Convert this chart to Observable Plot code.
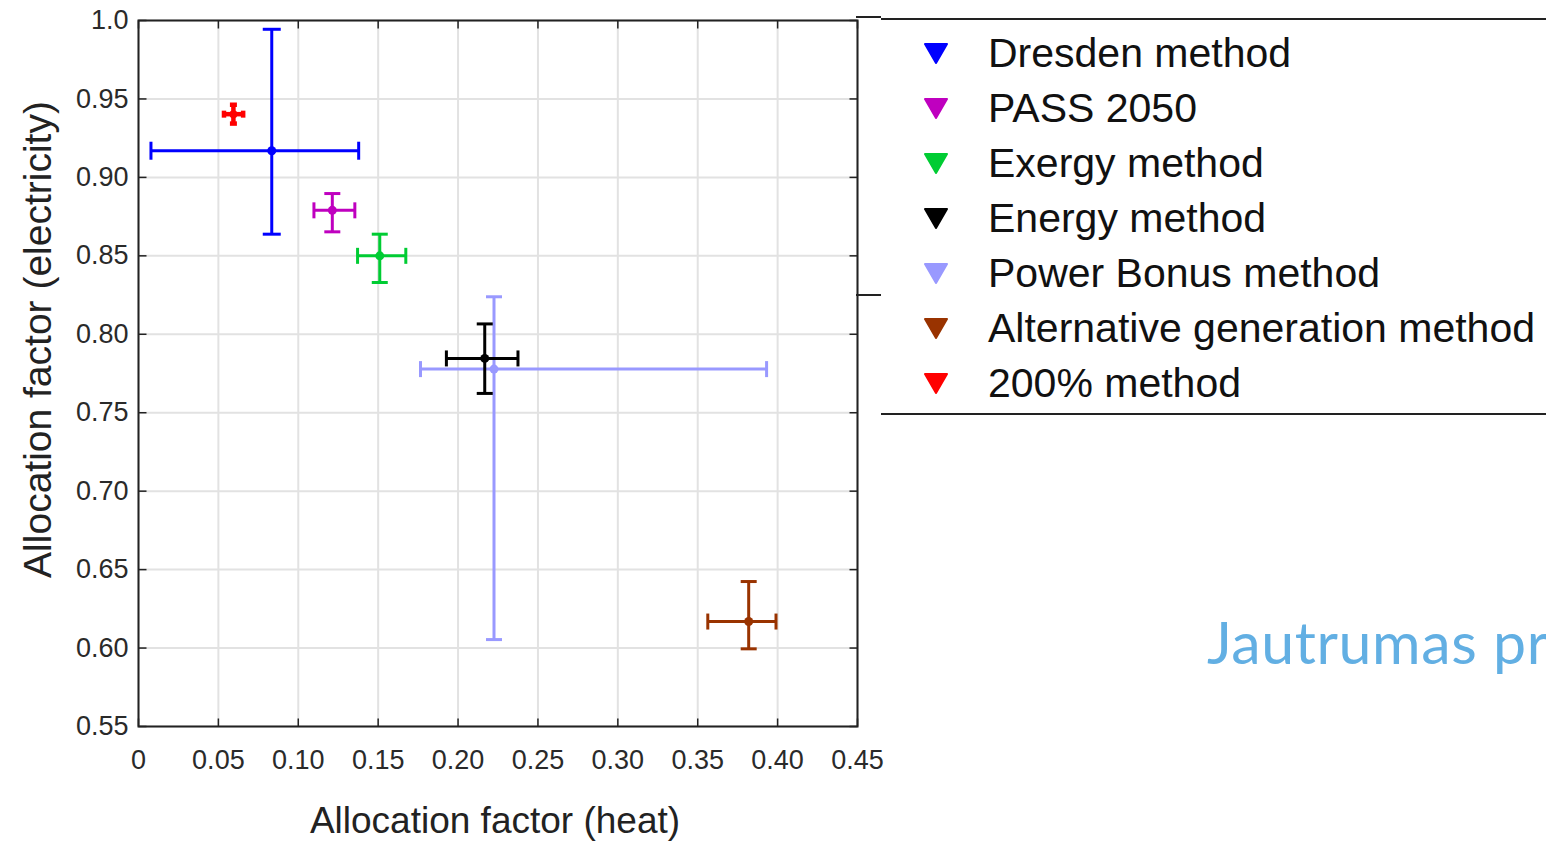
<!DOCTYPE html>
<html>
<head>
<meta charset="utf-8">
<script src="https://cdn.jsdelivr.net/npm/d3@7"></script>
<script src="https://cdn.jsdelivr.net/npm/@observablehq/plot@0.6"></script>
<style>
  html, body { margin: 0; padding: 0; background: #fff; }
  #root { position: relative; width: 1546px; height: 843px; overflow: hidden; background: #fff; font-family: Arial, "Liberation Sans", sans-serif; }
  #chart { position: absolute; left: 0; top: 0; }
  .hline { position: absolute; height: 0; border-top: 2px solid #222; }
  .leg-text { position: absolute; left: 988px; font-size: 41px; color: #111; white-space: nowrap; line-height: 1; }
  #slide-title { position: absolute; left: 1207px; top: 612px; font-family: Lato, "Open Sans", sans-serif; font-size: 59px; letter-spacing: 0.6px; color: #62afe3; white-space: nowrap; line-height: 1; }
</style>
</head>
<body>
<div id="root">
  <div id="chart"></div>
  <div id="legend"></div>
  <div id="slide-title">Jautrumas pr</div>
</div>
<script>
// ---- data ----
const methods = ["Dresden method", "PASS 2050", "Exergy method", "Energy method", "Power Bonus method", "Alternative generation method", "200% method"];
const heat      = [0.0834, 0.1213, 0.1510, 0.2167, 0.2225, 0.3819, 0.0594];
const heatLow   = [0.0078, 0.1098, 0.1371, 0.1927, 0.1765, 0.3563, 0.0535];
const heatHigh  = [0.1378, 0.1354, 0.1673, 0.2375, 0.3931, 0.3990, 0.0655];
const elec      = [0.9170, 0.8790, 0.8500, 0.7846, 0.7778, 0.6169, 0.9403];
const elecLow   = [0.8638, 0.8653, 0.8330, 0.7623, 0.6054, 0.5995, 0.9343];
const elecHigh  = [0.9944, 0.8897, 0.8638, 0.8066, 0.8239, 0.6424, 0.9463];
const colors    = ["#0000ff", "#bf00bf", "#00cc33", "#000000", "#9999ff", "#993300", "#ff0000"];

const xTicks = [0, 0.05, 0.10, 0.15, 0.20, 0.25, 0.30, 0.35, 0.40, 0.45];
const xTickLabels = ["0", "0.05", "0.10", "0.15", "0.20", "0.25", "0.30", "0.35", "0.40", "0.45"];
const yTicks = [0.55, 0.60, 0.65, 0.70, 0.75, 0.80, 0.85, 0.90, 0.95, 1.0];
const yTickLabels = ["0.55", "0.60", "0.65", "0.70", "0.75", "0.80", "0.85", "0.90", "0.95", "1.0"];
const xLabel = "Allocation factor (heat)";
const yLabel = "Allocation factor (electricity)";

// ---- build table ----
const rows = methods.map((m, i) => ({
  method: m, x: heat[i], xlo: heatLow[i], xhi: heatHigh[i],
  y: elec[i], ylo: elecLow[i], yhi: elecHigh[i], color: colors[i], idx: i
}));

// custom line-segment symbols (size ignored)
const seg = (x1, y1, x2, y2) => ({ draw(ctx) { ctx.moveTo(x1, y1); ctx.lineTo(x2, y2); } });
const T = 8;
const tickUp = seg(0, 0, 0, -T), tickDown = seg(0, 0, 0, T);
const tickRight = seg(0, 0, T, 0), tickLeft = seg(0, 0, -T, 0);

// draw order: Power Bonus beneath Energy
const drawOrder = [0, 1, 2, 4, 3, 5, 6];

const seriesMarks = [];
for (const i of drawOrder) {
  const d = [rows[i]];
  const small = rows[i].method === "200% method";
  const big = rows[i].method === "Dresden method";
  const cap = small ? 3.5 : (big ? 9 : 8);
  const sw = small ? 4.5 : 3;
  const c = rows[i].color;
  seriesMarks.push(
    Plot.ruleY(d, { y: "y", x1: "xlo", x2: "xhi", stroke: c, strokeWidth: sw }),
    Plot.ruleX(d, { x: "x", y1: "ylo", y2: "yhi", stroke: c, strokeWidth: sw }),
    Plot.dot(d, { x: "xlo", y: "y", r: 1, symbol: seg(0, -cap, 0, cap), stroke: c, strokeWidth: sw, fill: "none" }),
    Plot.dot(d, { x: "xhi", y: "y", r: 1, symbol: seg(0, -cap, 0, cap), stroke: c, strokeWidth: sw, fill: "none" }),
    Plot.dot(d, { x: "x", y: "ylo", r: 1, symbol: seg(-cap, 0, cap, 0), stroke: c, strokeWidth: sw, fill: "none" }),
    Plot.dot(d, { x: "x", y: "yhi", r: 1, symbol: seg(-cap, 0, cap, 0), stroke: c, strokeWidth: sw, fill: "none" }),
    Plot.dot(d, { x: "x", y: "y", r: small ? 4 : 4.5, fill: c, stroke: "none" })
  );
}

const chart = Plot.plot({
  width: 880,
  height: 843,
  marginLeft: 138,
  marginRight: 23,
  marginTop: 20,
  marginBottom: 117,
  x: { domain: [0, 0.45], label: null },
  y: { domain: [0.55, 1.0], label: null },
  style: { fontFamily: "Arial, 'Liberation Sans', sans-serif", background: "transparent", overflow: "visible" },
  marks: [
    Plot.gridX(xTicks, { stroke: "#e2e2e2", strokeOpacity: 1, strokeWidth: 2 }),
    Plot.gridY(yTicks, { stroke: "#e2e2e2", strokeOpacity: 1, strokeWidth: 2 }),
    Plot.frame({ stroke: "#222", strokeWidth: 2 }),
    // inward ticks on all four sides
    Plot.dot(xTicks, { x: d => d, y: () => 0.55, r: 1, symbol: tickUp, stroke: "#222", strokeWidth: 1.5, fill: "none" }),
    Plot.dot(xTicks, { x: d => d, y: () => 1.0, r: 1, symbol: tickDown, stroke: "#222", strokeWidth: 1.5, fill: "none" }),
    Plot.dot(yTicks, { y: d => d, x: () => 0, r: 1, symbol: tickRight, stroke: "#222", strokeWidth: 1.5, fill: "none" }),
    Plot.dot(yTicks, { y: d => d, x: () => 0.45, r: 1, symbol: tickLeft, stroke: "#222", strokeWidth: 1.5, fill: "none" }),
    // tick labels
    Plot.axisX(xTicks, { anchor: "bottom", tickSize: 0, tickPadding: 23, fontSize: 27, fill: "#2a2a2a",
      tickFormat: d => xTickLabels[xTicks.indexOf(d)], label: null }),
    Plot.axisY(yTicks, { anchor: "left", tickSize: 0, tickPadding: 10, fontSize: 27, fill: "#2a2a2a",
      tickFormat: d => yTickLabels[yTicks.indexOf(d)], label: null }),
    // axis titles
    Plot.text([xLabel], { text: d => d, frameAnchor: "bottom", textAnchor: "middle", dy: 106, dx: -3, fontSize: 37, fill: "#222" }),
    Plot.text([yLabel], { text: d => d, frameAnchor: "left", textAnchor: "middle", rotate: -90, dx: -100, dy: -34, fontSize: 39, fill: "#222" }),
    ...seriesMarks
  ]
});
document.getElementById("chart").appendChild(chart);

// ---- legend (HTML) ----
const legend = document.getElementById("legend");
const addLine = (x1, x2, y) => {
  const el = document.createElement("div");
  el.className = "hline";
  el.style.left = x1 + "px";
  el.style.width = (x2 - x1) + "px";
  el.style.top = (y - 1) + "px";
  legend.appendChild(el);
};
addLine(856, 881, 17);
addLine(881, 1546, 19);
addLine(856, 881, 295);
addLine(881, 1546, 414);

methods.forEach((m, i) => {
  const cy = 53 + 55 * i;
  const tri = document.createElementNS("http://www.w3.org/2000/svg", "svg");
  tri.setAttribute("width", 26);
  tri.setAttribute("height", 22);
  tri.style.position = "absolute";
  tri.style.left = "923px";
  tri.style.top = (cy - 11) + "px";
  const p = document.createElementNS("http://www.w3.org/2000/svg", "path");
  p.setAttribute("d", "M2,2 L24,2 L13,21 Z");
  p.setAttribute("fill", colors[i]);
  p.setAttribute("stroke", colors[i]);
  p.setAttribute("stroke-linejoin", "round");
  p.setAttribute("stroke-width", "2");
  tri.appendChild(p);
  legend.appendChild(tri);
  const t = document.createElement("div");
  t.className = "leg-text";
  t.textContent = m;
  t.style.top = (cy - 20) + "px";
  legend.appendChild(t);
});
</script>
</body>
</html>
